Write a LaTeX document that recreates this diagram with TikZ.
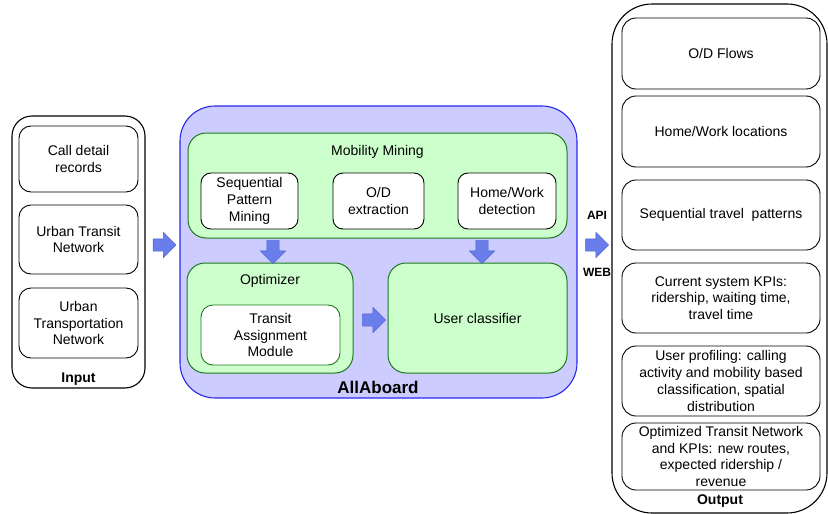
\documentclass[tikz,border=0pt]{standalone}
\usepackage{fontspec}
\setmainfont{Liberation Sans}
\usetikzlibrary{shapes.arrows}
\definecolor{aaback}{RGB}{204,204,255}
\definecolor{aaline}{RGB}{40,40,240}
\definecolor{mineback}{RGB}{204,255,204}
\definecolor{mineline}{RGB}{30,120,30}
\definecolor{arrowback}{RGB}{105,125,235}
\definecolor{arrowline}{RGB}{75,95,200}

\tikzset{
  txt/.style={font=\fontsize{14}{16.7}\selectfont,align=center},
  group/.style={draw=black,line width=1.1pt,rounded corners=#1,inner sep=0pt},
  item/.style={txt,draw=black,line width=0.9pt,fill=white,rounded corners=12pt,inner sep=0pt},
  greenbox/.style={draw=mineline,fill=mineback,line width=1pt,rounded corners=18pt,inner sep=0pt},
  blockarrow/.style={single arrow,draw=arrowline,fill=arrowback,inner sep=0pt,
    minimum height=23pt,single arrow head extend=6.5pt},
  title/.style={font=\fontsize{14}{16}\selectfont\bfseries},
}
\newcommand{\shaft}{\rule{0pt}{12pt}}

\begin{document}
\begin{tikzpicture}[x=1pt,y=-1pt]
\useasboundingbox (0,0) rectangle (828,514);

% input
\node [group=20pt,minimum width=133pt,minimum height=272pt] (input) at (78.5,252) {};
\node [item,minimum width=119pt,minimum height=66pt] (cdr) at (78.5,159) {Call detail\\records};
\node [item,minimum width=119pt,minimum height=69pt] (utn) at (78.5,239.5) {Urban Transit\\Network};
\node [item,minimum width=119pt,minimum height=70pt] (utpn) at (78.5,323) {Urban\\Transportation\\Network};
\node [title] (inlabel) at (78.5,379) {Input};

% AllAboard
\node [draw=aaline,fill=aaback,line width=1.1pt,rounded corners=35pt,minimum width=397pt,minimum height=292pt] (allaboard) at (378.5,252) {};
\node [font=\fontsize{17}{20}\selectfont\bfseries] (aalabel) at (378,387) {AllAboard};

\node [greenbox,minimum width=379pt,minimum height=105pt] (mining) at (377.5,185.5) {};
\node [txt] (mininglabel) at (377.5,152) {Mobility Mining};
\node [item,rounded corners=10pt,minimum width=97pt,minimum height=56pt] (spm) at (249.5,201) {Sequential\\Pattern\\Mining};
\node [item,rounded corners=10pt,minimum width=91pt,minimum height=56pt] (od) at (378.5,201) {O/D\\extraction};
\node [item,rounded corners=10pt,minimum width=98pt,minimum height=56pt] (hw) at (507,201) {Home/Work\\detection};

\node [greenbox,minimum width=166pt,minimum height=110pt] (optimizer) at (270,318) {};
\node [txt] (optlabel) at (270,281) {Optimizer};
\node [item,draw=mineline,rounded corners=12pt,minimum width=139pt,minimum height=60pt] (tam) at (270.5,335) {Transit\\Assignment\\Module};

\node [greenbox,txt,minimum width=179pt,minimum height=110pt] (classifier) at (477.5,318) {User classifier};

% arrows
\node [blockarrow] (a1) at (161.5,245) {\shaft};
\node [blockarrow,rotate=270] (a2) at (273,249) {\shaft};
\node [blockarrow,rotate=270] (a3) at (482,249) {\shaft};
\node [blockarrow] (a4) at (371,320) {\shaft};
\node [blockarrow] (a5) at (594,245) {\shaft};
\node [font=\fontsize{12}{14}\selectfont\bfseries] (api) at (597,215) {API};
\node [font=\fontsize{12}{14}\selectfont\bfseries] (web) at (597,272) {WEB};

% output
\node [group=40pt,minimum width=215pt,minimum height=509pt] (output) at (719.5,258.5) {};
\node [item,rounded corners=14pt,minimum width=198pt,minimum height=71pt] (flows) at (721,53.5) {O/D Flows};
\node [item,rounded corners=14pt,minimum width=198pt,minimum height=71pt] (homes) at (721,131.5) {Home/Work locations};
\node [item,rounded corners=14pt,minimum width=198pt,minimum height=70pt] (patterns) at (721,215) {Sequential travel\ \ patterns};
\node [item,rounded corners=14pt,minimum width=198pt,minimum height=70pt] (kpis) at (721,298) {Current system KPIs:\\ridership, waiting time,\\travel time};
\node [item,rounded corners=14pt,minimum width=198pt,minimum height=70pt] (profiles) at (721,381) {User profiling: calling\\activity and mobility based\\classification, spatial\\distribution};
\node [item,rounded corners=14pt,minimum width=198pt,minimum height=67pt] (optnet) at (721,456.5) {Optimized Transit Network\\and KPIs: new routes,\\expected ridership /\\revenue};
\node [title] (outlabel) at (720,501) {Output};
\end{tikzpicture}
\end{document}
